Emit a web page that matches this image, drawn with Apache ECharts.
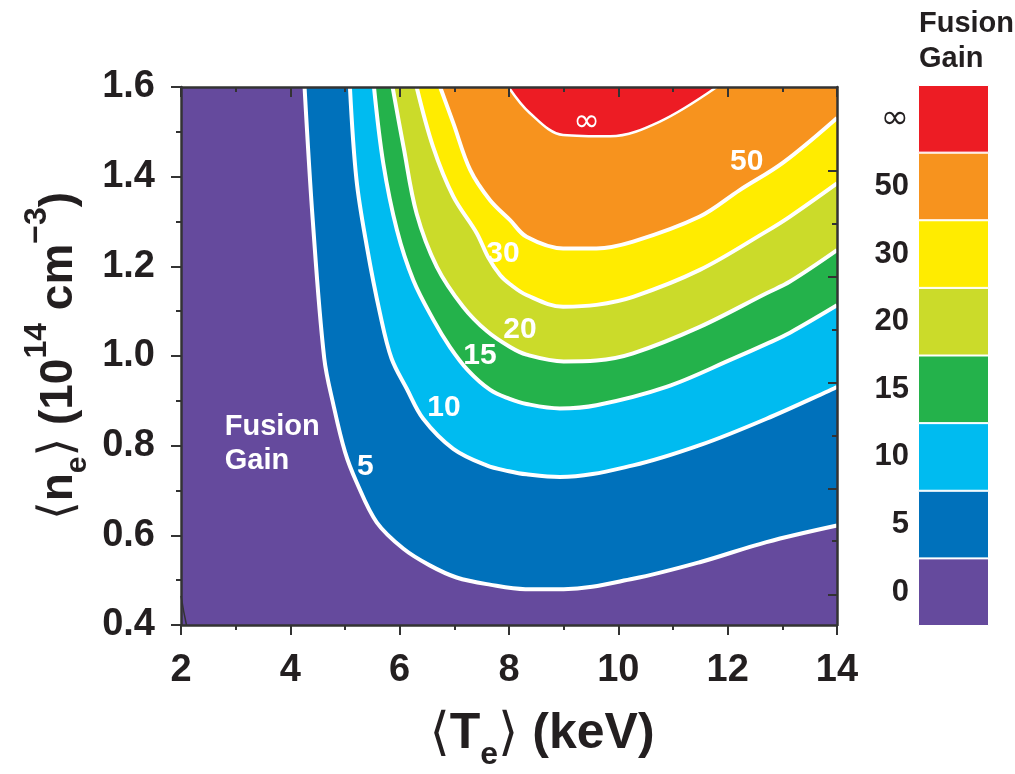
<!DOCTYPE html>
<html>
<head>
<meta charset="utf-8">
<script src="https://cdn.jsdelivr.net/npm/echarts@6/dist/echarts.min.js"></script>
<style>html,body{margin:0;padding:0;background:#fff}#c{width:1015px;height:774px}</style>
</head>
<body>
<div id="c"></div>
<script>
// ---- data (Te in keV, ne in 1e14 cm^-3) ----
const gainLevels = ['0', '5', '10', '15', '20', '30', '50', '∞'];
const contour5 = [[4.26,1.6],[4.41,1.303],[4.62,0.995],[4.79,0.890],[5.0,0.786],[5.21,0.719],[5.58,0.629],[6.07,0.570],[6.55,0.533],[7.04,0.506],[7.65,0.490],[8.3,0.480],[9.0,0.480],[10.27,0.503],[11.49,0.540],[12.71,0.585],[14.0,0.622]];
const contour10 = [[5.09,1.6],[5.21,1.393],[5.40,1.244],[5.64,1.095],[5.85,0.995],[6.13,0.927],[6.43,0.860],[6.98,0.793],[7.59,0.756],[8.0,0.743],[8.32,0.736],[8.93,0.730],[10.27,0.756],[11.49,0.801],[12.71,0.860],[14.0,0.931]];
const contour15 = [[5.53,1.6],[5.70,1.430],[5.95,1.281],[6.25,1.169],[6.62,1.080],[6.92,1.020],[7.25,0.968],[7.65,0.925],[8.0,0.905],[8.32,0.893],[8.93,0.883],[9.60,0.890],[10.88,0.931],[12.10,0.994],[12.71,1.027],[13.14,1.052],[14.0,1.113]];
const contour20 = [[5.87,1.6],[6.07,1.467],[6.31,1.318],[6.68,1.199],[7.16,1.110],[7.6,1.055],[8.02,1.020],[8.32,1.003],[9.0,0.988],[9.6,0.990],[10.27,1.006],[11.49,1.065],[12.71,1.140],[13.14,1.166],[14.0,1.236]];
const contour30 = [[6.31,1.6],[6.61,1.467],[6.98,1.356],[7.41,1.274],[7.62,1.220],[7.84,1.180],[8.02,1.160],[8.32,1.136],[8.99,1.110],[9.60,1.114],[10.27,1.132],[11.49,1.192],[12.71,1.278],[13.14,1.311],[14.0,1.385]];
const contour50 = [[6.74,1.6],[6.98,1.52],[7.29,1.415],[7.65,1.348],[8.02,1.303],[8.32,1.266],[8.99,1.240],[9.60,1.240],[10.27,1.255],[11.49,1.311],[12.22,1.370],[13.02,1.432],[14.0,1.531]];
const contourInf = [[7.99,1.6],[8.38,1.542],[8.99,1.493],[9.85,1.490],[10.76,1.523],[11.80,1.6]];
const cornerLine = [[2.0,0.465],[2.05,0.43],[2.10,0.40]];
const contourLabels = ['5', '10', '15', '20', '30', '50', '∞'];
const contourLabelPos = [[5.37,0.752],[6.81,0.884],[7.47,1.0],[8.2,1.058],[7.89,1.229],[12.35,1.434],[9.42,1.52]];
const insideLabel = 'Fusion\nGain';
const insideLabelPos = [2.8, 0.803];
const rightMajorTicks = [0.468, 0.705, 0.940, 1.177, 1.413];
const rightMinorTicks = [0.587, 0.823, 1.059, 1.295];

// ---- styles ----
const bandColors = ['#654a9d', '#0071bb', '#00bbf0', '#24b24b', '#cbdb2a', '#ffec00', '#f7931e', '#ed1c24'];
const FONT = "'Liberation Sans Narrow', 'Arial Narrow', 'Liberation Sans', Arial, sans-serif";
const INK = '#231f20';
const AXIS = '#333333';

const contours = [contour5, contour10, contour15, contour20, contour30, contour50, contourInf];

const chart = echarts.init(document.getElementById('c'), null, {renderer: 'canvas'});

const series = contours.map((c, i) => ({
  type: 'line', xAxisIndex: 0, yAxisIndex: 0,
  data: c, showSymbol: false, smooth: 0.35,
  silent: true, animation: false,
  lineStyle: {color: '#ffffff', width: i === 6 ? 2.5 : 4},
  areaStyle: {color: bandColors[i + 1], opacity: 1, origin: 'end'}
}));
series.push({
  type: 'line', xAxisIndex: 0, yAxisIndex: 0, data: cornerLine, showSymbol: false,
  silent: true, animation: false, lineStyle: {color: AXIS, width: 1.5}
});
series.push({
  type: 'scatter', xAxisIndex: 0, yAxisIndex: 0, symbolSize: 0, silent: true, animation: false,
  itemStyle: {color: 'rgba(0,0,0,0)', opacity: 1}, z: 10,
  emphasis: {disabled: true},
  label: {show: true, position: 'inside', formatter: '{b}', color: '#ffffff', opacity: 1, fontFamily: FONT, fontWeight: 'bold', fontSize: 30},
  data: contourLabelPos.map((p, i) => ({
    value: p, name: contourLabels[i],
    label: contourLabels[i] === '∞' ? {fontFamily: "'DejaVu Sans', sans-serif", fontWeight: 'normal', fontSize: 32} : {}
  })).concat([{
    value: insideLabelPos, name: insideLabel,
    label: {position: 'right', distance: 0, align: 'left', lineHeight: 34, fontSize: 29}
  }])
});
series.push({
  type: 'bar', xAxisIndex: 2, yAxisIndex: 3, barWidth: '100%', silent: true, animation: false,
  itemStyle: {borderColor: '#fff', borderWidth: 1},
  data: gainLevels.map((g, i) => ({value: 1, itemStyle: {color: bandColors[i]}}))
});

const tickStyle = {color: AXIS, width: 2};
const option = {
  animation: false,
  backgroundColor: '#ffffff',
  title: {
    text: 'Fusion\nGain', left: 919, top: 6, padding: 0,
    textStyle: {fontFamily: FONT, fontWeight: 'bold', fontSize: 29, lineHeight: 35, color: INK}
  },
  grid: [
    {left: 181, right: 178, top: 87, bottom: 149, show: true, backgroundColor: bandColors[0], borderWidth: 0, containLabel: false, outerBoundsMode: 'none'},
    {left: 918, right: 26, top: 85, bottom: 148, containLabel: false, outerBoundsMode: 'none'}
  ],
  xAxis: [
    {
      gridIndex: 0, type: 'value', min: 2, max: 14, interval: 2, position: 'bottom', z: 5,
      axisLine: {show: true, onZero: false, lineStyle: {color: AXIS, width: 2.5}},
      axisTick: {show: true, inside: false, length: 10, lineStyle: tickStyle},
      minorTick: {show: true, splitNumber: 2, length: 5, lineStyle: tickStyle},
      splitLine: {show: false}, minorSplitLine: {show: false},
      axisLabel: {fontSize: 38, fontWeight: 'bold', fontFamily: FONT, color: INK, margin: 27},
      name: '{br|⟨}{t|T}{sub|e}{br|⟩}{t| (keV)}',
      nameLocation: 'middle', nameGap: 84, nameMoveOverlap: false,
      nameTextStyle: {
        color: INK, fontFamily: FONT, fontWeight: 'bold', fontSize: 50, padding: [0, 0, 0, 66],
        rich: {
          br: {fontFamily: "'DejaVu Sans', sans-serif", fontWeight: 'normal', fontSize: 52, lineHeight: 56, verticalAlign: 'top', color: INK},
          t: {fontFamily: FONT, fontWeight: 'bold', fontSize: 50, lineHeight: 56, verticalAlign: 'top', color: INK},
          sub: {fontFamily: FONT, fontWeight: 'bold', fontSize: 32, lineHeight: 32, verticalAlign: 'top', padding: [30, 0, 0, 0], color: INK}
        }
      }
    },
    {
      gridIndex: 0, type: 'value', min: 2, max: 14, interval: 2, position: 'top', z: 5,
      axisLine: {show: true, onZero: false, lineStyle: {color: AXIS, width: 2.5}},
      axisTick: {show: true, inside: true, length: 10, lineStyle: tickStyle},
      minorTick: {show: true, splitNumber: 2, length: 5, lineStyle: tickStyle},
      splitLine: {show: false}, axisLabel: {show: false}
    },
    {gridIndex: 1, type: 'value', min: 0, max: 1, show: false}
  ],
  yAxis: [
    {
      gridIndex: 0, type: 'value', min: 0.4, max: 1.6, interval: 0.2, position: 'left', z: 5,
      axisLine: {show: true, onZero: false, lineStyle: {color: AXIS, width: 2.5}},
      axisTick: {show: true, inside: false, length: 10, lineStyle: tickStyle},
      minorTick: {show: true, splitNumber: 2, length: 5, lineStyle: tickStyle},
      splitLine: {show: false}, minorSplitLine: {show: false},
      axisLabel: {fontSize: 38, fontWeight: 'bold', fontFamily: FONT, color: INK, margin: 26, formatter: v => v.toFixed(1)},
      name: '{br|⟨}{t|n}{sub|e}{br|⟩}{t| (10}{sup|14}{t| cm}{sup|−3}{t|)}',
      nameLocation: 'middle', nameGap: 108, nameRotate: 90, nameMoveOverlap: false,
      nameTextStyle: {
        color: INK, fontFamily: FONT, fontWeight: 'bold', fontSize: 46,
        rich: {
          br: {fontFamily: "'DejaVu Sans', sans-serif", fontWeight: 'normal', fontSize: 48, lineHeight: 52, verticalAlign: 'top', padding: [15, 0, 0, 0], color: INK},
          t: {fontFamily: FONT, fontWeight: 'bold', fontSize: 46, lineHeight: 52, verticalAlign: 'top', padding: [15, 0, 0, 0], color: INK},
          sub: {fontFamily: FONT, fontWeight: 'bold', fontSize: 30, lineHeight: 30, verticalAlign: 'top', padding: [42, 0, 0, 0], color: INK},
          sup: {fontFamily: FONT, fontWeight: 'bold', fontSize: 32, lineHeight: 32, verticalAlign: 'top', color: INK}
        }
      }
    },
    {
      gridIndex: 0, type: 'value', min: 0.4, max: 1.6, position: 'right', z: 5,
      axisLine: {show: true, onZero: false, lineStyle: {color: AXIS, width: 2.5}},
      axisTick: {show: true, inside: true, length: 9, lineStyle: tickStyle, customValues: rightMajorTicks},
      splitLine: {show: false}, axisLabel: {show: false}
    },
    {
      gridIndex: 0, type: 'value', min: 0.4, max: 1.6, position: 'right', z: 5,
      axisLine: {show: false},
      axisTick: {show: true, inside: true, length: 5, lineStyle: tickStyle, customValues: rightMinorTicks},
      splitLine: {show: false}, axisLabel: {show: false}
    },
    {
      gridIndex: 1, type: 'category', data: gainLevels, position: 'left',
      axisLine: {show: false}, axisTick: {show: false}, splitLine: {show: false},
      axisLabel: {
        fontSize: 31, fontWeight: 'bold', fontFamily: FONT, color: INK, margin: 9,
        formatter: v => v === '∞' ? '{inf|∞}' : v,
        rich: {inf: {fontFamily: "'DejaVu Sans', sans-serif", fontWeight: 'normal', fontSize: 34, color: INK}}
      }
    }
  ],
  series: series
};
chart.setOption(option);
</script>
</body>
</html>
